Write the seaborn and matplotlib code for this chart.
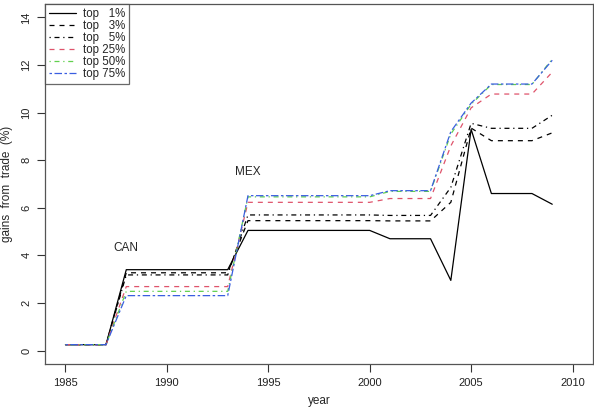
import seaborn as sns
import matplotlib.pyplot as plt
import numpy as np
import pandas as pd

# gains from trade by income group
years = list(range(1985, 2010))
top1 = [0.25, 0.25, 0.25, 3.4, 3.4, 3.4, 3.4, 3.4, 3.4, 5.05, 5.05, 5.05, 5.05, 5.05, 5.05, 5.05,
        4.7, 4.7, 4.7, 2.95, 9.3, 6.6, 6.6, 6.6, 6.15]
top3 = [0.25, 0.25, 0.25, 3.27, 3.27, 3.27, 3.27, 3.27, 3.27, 5.46, 5.46, 5.46, 5.46, 5.46, 5.46, 5.46,
        5.45, 5.45, 5.45, 6.23, 9.35, 8.82, 8.82, 8.82, 9.15]
top5 = [0.25, 0.25, 0.25, 3.18, 3.18, 3.18, 3.18, 3.18, 3.18, 5.7, 5.7, 5.7, 5.7, 5.7, 5.7, 5.7,
        5.68, 5.68, 5.68, 6.86, 9.55, 9.34, 9.34, 9.34, 9.89]
top25 = [0.25, 0.25, 0.25, 2.69, 2.69, 2.69, 2.69, 2.69, 2.69, 6.23, 6.23, 6.23, 6.23, 6.23, 6.23, 6.23,
         6.39, 6.39, 6.39, 8.6, 10.2, 10.78, 10.78, 10.78, 11.7]
top50 = [0.25, 0.25, 0.25, 2.49, 2.49, 2.49, 2.49, 2.49, 2.49, 6.46, 6.46, 6.46, 6.46, 6.46, 6.46, 6.46,
         6.69, 6.69, 6.69, 9.1, 10.35, 11.18, 11.18, 11.18, 12.25]
top75 = [0.25, 0.25, 0.25, 2.31, 2.31, 2.31, 2.31, 2.31, 2.31, 6.51, 6.51, 6.51, 6.51, 6.51, 6.51, 6.51,
         6.72, 6.72, 6.72, 9.2, 10.4, 11.2, 11.2, 11.2, 12.2]
labels = ["top   1%", "top   3%", "top   5%", "top 25%", "top 50%", "top 75%"]

df = pd.DataFrame({"year": years, labels[0]: top1, labels[1]: top3, labels[2]: top5,
                   labels[3]: top25, labels[4]: top50, labels[5]: top75})
long = df.melt(id_vars="year", var_name="group", value_name="gain")

sns.set_theme(style="ticks")
plt.rcParams['font.family'] = ['Liberation Sans', 'DejaVu Sans']

colors = ["black", "black", "black", "#DF536B", "#61D04F", "#3a5ee0"]
styles = ["-", (0, (4, 4)), (0, (1, 3, 4, 3)), (0, (4, 4)), (0, (1, 3, 4, 3)), (0, (2, 2, 6, 2))]

fig = plt.figure(figsize=(5.94, 4.08), dpi=100)
ax = fig.add_axes([0.076, 0.108, 0.922, 0.882])

for lab, col, ls in zip(labels, colors, styles):
    sub = long[long["group"] == lab]
    sns.lineplot(data=sub, x="year", y="gain", ax=ax, color=col, linestyle=ls,
                 linewidth=0.9, label=lab)

ax.text(1988, 4.3, "CAN", ha="center", va="center", fontsize=8.5)
ax.text(1994, 7.5, "MEX", ha="center", va="center", fontsize=8.5)

ax.set_xlim(1984, 2011)
ax.set_ylim(-0.56, 14.56)
ax.set_xticks(range(1985, 2011, 5))
ax.set_yticks(range(0, 15, 2))
ax.tick_params(labelsize=8, length=6, width=0.8, pad=4, color="#333333", labelcolor="#222222")
plt.setp(ax.get_yticklabels(), rotation=90, va="center")
for s in ax.spines.values():
    s.set_visible(True)
    s.set_color("#555555")
    s.set_linewidth(0.9)
ax.set_xlabel("year", fontsize=8.5, labelpad=5)
ax.set_ylabel("gains  from  trade  (%)", fontsize=8.5, labelpad=6)

leg = ax.legend(loc="upper left", bbox_to_anchor=(0, 1), borderaxespad=0, fontsize=8.3,
                frameon=True, fancybox=False, handlelength=2.3, labelspacing=0.0,
                borderpad=0.35, handletextpad=0.6)
leg.get_frame().set_edgecolor("#444444")
leg.get_frame().set_linewidth(0.9)

fig.savefig("out.png", dpi=100)
